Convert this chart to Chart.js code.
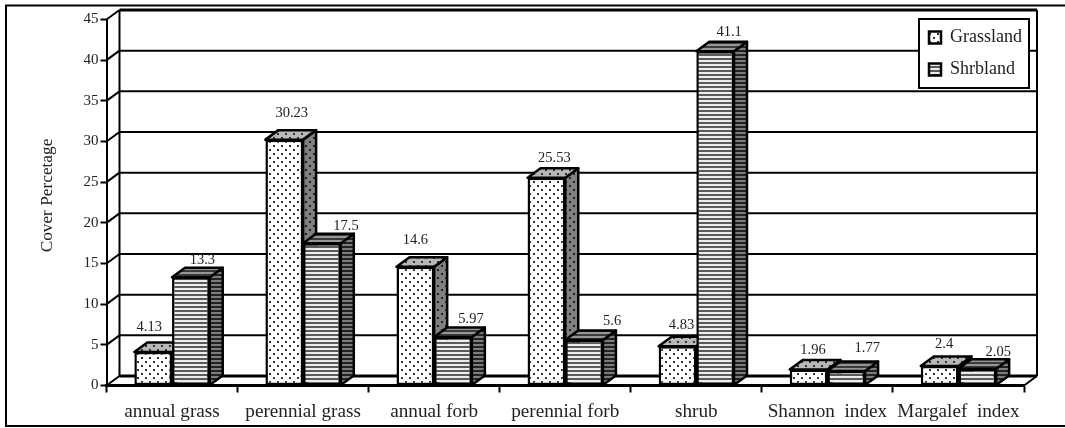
<!DOCTYPE html>
<html>
<head>
<meta charset="utf-8">
<script src="https://cdn.jsdelivr.net/npm/chart.js@4/dist/chart.umd.min.js"></script>
<style>
  html, body { margin: 0; padding: 0; background: #fff; overflow: hidden; }
  canvas { display: block; }
</style>
</head>
<body>
<canvas id="coverChart" width="1065" height="428"></canvas>
<script>
const categories = ['annual grass', 'perennial grass', 'annual forb', 'perennial forb', 'shrub', 'Shannon  index', 'Margalef  index'];
const grasslandValues = [4.13, 30.23, 14.6, 25.53, 4.83, 1.96, 2.4];
const shrublandValues = [13.3, 17.5, 5.97, 5.6, 41.1, 1.77, 2.05];
const yTicks = [0, 5, 10, 15, 20, 25, 30, 35, 40, 45];

// hand placement of the value labels, relative to the bar's front top centre
const grasslandLabelNudge = [[-4, 25], [7.5, 26], [0, 27], [8, 20], [4, 21], [4.5, 19], [4.5, 22]];
const shrublandLabelNudge = [[11.5, 17], [24, 17], [18, 18], [28, 19], [14, 19], [21, 23], [21, 17]];

const DEPTH_X = 13;
const DEPTH_Y = 9.5;
const SERIF = '"Liberation Serif", "Times New Roman", serif';
const LEGEND_BOX = { x: 919, y: 19, w: 110, h: 69 };

function makePattern(size, paint) {
  const c = document.createElement('canvas');
  c.width = size;
  c.height = size;
  paint(c.getContext('2d'));
  return c.getContext('2d').createPattern(c, 'repeat');
}

function dots(bg, dot) {
  return makePattern(8, p => {
    p.fillStyle = bg;
    p.fillRect(0, 0, 8, 8);
    p.fillStyle = dot;
    p.fillRect(1, 1, 2, 2);
    p.fillRect(5, 5, 2, 2);
  });
}

function stripes(light, dark) {
  return makePattern(4, p => {
    p.fillStyle = light;
    p.fillRect(0, 0, 4, 4);
    p.fillStyle = dark;
    p.fillRect(0, 2, 4, 2);
  });
}

const grassFaces = { top: dots('#b8b8b8', '#333'), side: dots('#808080', '#222') };
const shrubFaces = { top: stripes('#969696', '#3a3a3a'), side: stripes('#7c7c7c', '#222') };

function polygon(ctx, pts, fill) {
  ctx.beginPath();
  pts.forEach((p, i) => i ? ctx.lineTo(p[0], p[1]) : ctx.moveTo(p[0], p[1]));
  ctx.closePath();
  if (fill) {
    ctx.fillStyle = fill;
    ctx.fill();
  }
  ctx.stroke();
}

function line(ctx, x1, y1, x2, y2, w) {
  ctx.lineWidth = w;
  ctx.beginPath();
  ctx.moveTo(x1, y1);
  ctx.lineTo(x2, y2);
  ctx.stroke();
}

// back wall, floor, outer frame and the legend box, all behind the axes
const wallPlugin = {
  id: 'wall',
  afterLayout(chart) {
    // legend padding pushes the items in from here; bottom has to clear the last item
    const lg = chart.legend;
    lg.left = LEGEND_BOX.x - 4;
    lg.right = LEGEND_BOX.x + LEGEND_BOX.w;
    lg.top = LEGEND_BOX.y - 4.5;
    lg.bottom = LEGEND_BOX.y + LEGEND_BOX.h + 30;
  },
  beforeDraw(chart) {
    const ctx = chart.ctx;
    const area = chart.chartArea;
    const y = chart.scales.y;
    ctx.save();
    ctx.strokeStyle = '#000';

    ctx.lineWidth = 2;
    ctx.strokeRect(6, 5.5, 1075, 420.5);

    const backL = area.left + DEPTH_X;
    const backR = area.right + DEPTH_X;
    yTicks.forEach(t => {
      const py = y.getPixelForValue(t);
      line(ctx, area.left, py, backL, py - DEPTH_Y, 2);
      line(ctx, backL, py - DEPTH_Y, backR, py - DEPTH_Y, (t === 0 || t === 45) ? 3 : 2);
    });
    line(ctx, backL, area.top - DEPTH_Y, backL, area.bottom - DEPTH_Y, 2);
    line(ctx, backR, area.top - DEPTH_Y, backR, area.bottom - DEPTH_Y, 2);
    line(ctx, area.right, area.bottom, backR, area.bottom - DEPTH_Y, 2);

    ctx.fillStyle = '#fff';
    ctx.fillRect(LEGEND_BOX.x, LEGEND_BOX.y, LEGEND_BOX.w, LEGEND_BOX.h);
    ctx.lineWidth = 2;
    ctx.strokeRect(LEGEND_BOX.x, LEGEND_BOX.y, LEGEND_BOX.w, LEGEND_BOX.h);
    ctx.restore();
  }
};

// top and side faces go under both front faces
const depthPlugin = {
  id: 'depth',
  beforeDatasetsDraw(chart) {
    const ctx = chart.ctx;
    ctx.save();
    ctx.strokeStyle = '#000';
    ctx.lineWidth = 2.5;
    ctx.lineJoin = 'round';
    [grassFaces, shrubFaces].forEach((faces, d) => {
      chart.getDatasetMeta(d).data.forEach(bar => {
        const l = bar.x - bar.width / 2;
        const r = bar.x + bar.width / 2;
        polygon(ctx, [[r, bar.y], [r + DEPTH_X, bar.y - DEPTH_Y], [r + DEPTH_X, bar.base - DEPTH_Y], [r, bar.base]], faces.side);
        polygon(ctx, [[l, bar.y], [l + DEPTH_X, bar.y - DEPTH_Y], [r + DEPTH_X, bar.y - DEPTH_Y], [r, bar.y]], faces.top);
      });
    });
    ctx.restore();
  },
  afterDatasetsDraw(chart) {
    const ctx = chart.ctx;
    ctx.save();
    ctx.fillStyle = '#222';
    ctx.font = '14.5px ' + SERIF;
    ctx.textAlign = 'center';
    ctx.textBaseline = 'middle';
    [grasslandLabelNudge, shrublandLabelNudge].forEach((nudge, d) => {
      const values = chart.data.datasets[d].data;
      chart.getDatasetMeta(d).data.forEach((bar, i) => {
        ctx.fillText(String(values[i]), bar.x + nudge[i][0], bar.y - nudge[i][1]);
      });
    });
    ctx.restore();
  }
};

new Chart(document.getElementById('coverChart'), {
  type: 'bar',
  data: {
    labels: categories,
    datasets: [
      { label: 'Grassland', data: grasslandValues, backgroundColor: dots('#fff', '#333') },
      { label: 'Shrbland', data: shrublandValues, backgroundColor: stripes('#ececec', '#5a5a5a') }
    ]
  },
  options: {
    responsive: false,
    animation: false,
    layout: { padding: { top: 19.5, right: 41, left: 0, bottom: 0 } },
    datasets: {
      bar: {
        categoryPercentage: 0.575,
        barPercentage: 1,
        borderColor: '#000',
        borderWidth: 2.5,
        borderSkipped: false
      }
    },
    scales: {
      x: {
        grid: { drawOnChartArea: false, tickLength: 7, tickWidth: 2, tickColor: '#000' },
        border: { color: '#000', width: 3 },
        ticks: { color: '#222', font: { family: SERIF, size: 19.2 }, padding: 8, maxRotation: 0, autoSkip: false },
        afterFit(scale) { scale.height = 42.5; }
      },
      y: {
        min: 0,
        max: 45,
        grid: { drawOnChartArea: false, tickLength: 6, tickWidth: 2, tickColor: '#000' },
        border: { color: '#000', width: 2 },
        ticks: { color: '#222', font: { family: SERIF, size: 15 }, padding: 2, stepSize: 5 },
        title: { display: true, text: 'Cover Percetage', color: '#222', font: { family: SERIF, size: 17.3 }, padding: { top: 37, bottom: 0 } },
        afterFit(scale) {
          scale.width = 106.5;
          if (!scale.titleShifted) {
            // the label sits a little above the middle of the axis
            const drawTitle = scale.drawTitle;
            scale.drawTitle = function () {
              this.ctx.save();
              this.ctx.translate(0, -7);
              drawTitle.call(this);
              this.ctx.restore();
            };
            scale.titleShifted = true;
          }
        }
      }
    },
    plugins: {
      tooltip: { enabled: false },
      legend: {
        position: 'chartArea',
        align: 'start',
        labels: { color: '#222', font: { family: SERIF, size: 18 }, boxWidth: 12, boxHeight: 12, padding: 14 }
      }
    }
  },
  plugins: [wallPlugin, depthPlugin]
});
</script>
</body>
</html>
